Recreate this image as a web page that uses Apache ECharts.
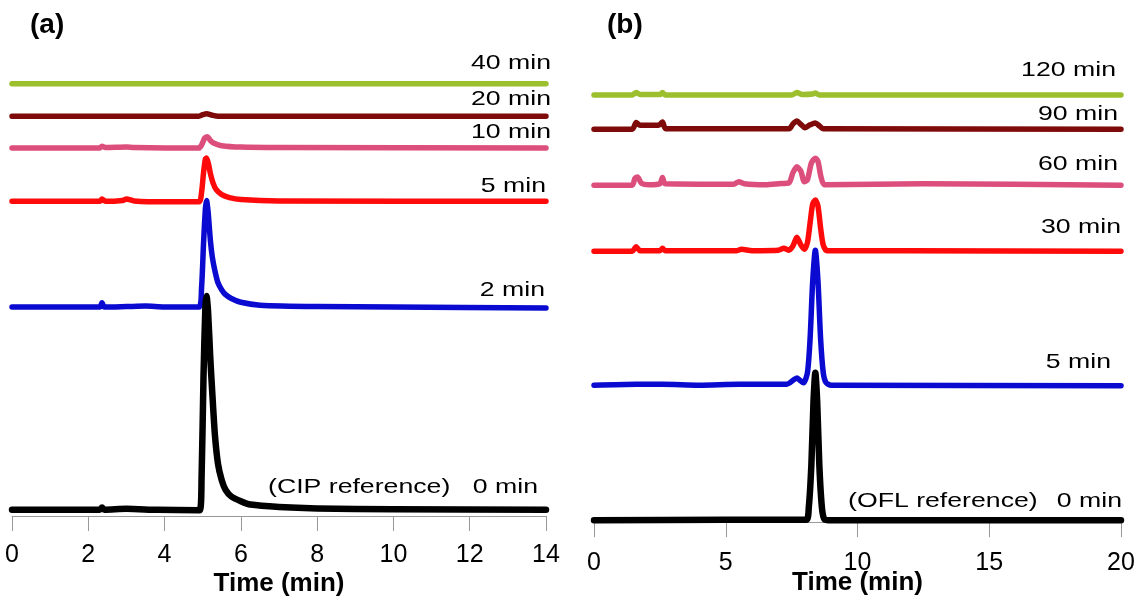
<!DOCTYPE html>
<html>
<head>
<meta charset="utf-8">
<script src="https://cdn.jsdelivr.net/npm/echarts@6/dist/echarts.min.js"></script>
<style>
html, body { margin: 0; padding: 0; background: #fff; }
#chart { width: 1134px; height: 602px; }
</style>
</head>
<body>
<div id="chart"></div>
<script>
// stacked chromatograms, values are offset intensity (arbitrary units, 0-100)
var cipTicks = [0, 2, 4, 6, 8, 10, 12, 14];
var oflTicks = [0, 5, 10, 15, 20];

var cipNames = ['0 min', '2 min', '5 min', '10 min', '20 min', '40 min'];
var oflNames = ['0 min', '5 min', '30 min', '60 min', '90 min', '120 min'];

var cip0 = [[0,1.3],[2.3,1.3],[2.36,1.8],[2.42,1.3],[3,1.5],[3.8,1.3],[4.92,1.2],[4.97,8],[5.02,29],[5.07,44],[5.1,46.2],[5.14,43],[5.2,33],[5.25,26],[5.32,17],[5.4,11],[5.5,7.5],[5.6,5.5],[5.75,4.1],[6,3.1],[6.25,2.4],[7,1.9],[8,1.6],[10,1.4],[14,1.3]];
var cip2 = [[0,43.9],[2.3,43.9],[2.36,44.8],[2.42,43.9],[3,44.0],[3.5,44.1],[4,43.9],[4.9,43.9],[4.97,48],[5.02,57],[5.07,64.5],[5.1,66.3],[5.14,64],[5.2,58],[5.25,54.5],[5.32,51.5],[5.4,49],[5.5,47.5],[5.6,46.5],[5.75,45.7],[6,44.9],[6.5,44.3],[8,44.0],[10,43.9],[14,43.7]];
var cip5 = [[0,66.1],[2.3,66.1],[2.36,66.6],[2.45,66.1],[2.9,66.3],[3.0,66.6],[3.2,66.2],[4,66.0],[4.9,66.0],[4.97,68],[5.02,72],[5.07,75],[5.1,75.2],[5.15,74],[5.2,72],[5.27,70],[5.35,68.6],[5.5,67.5],[5.7,66.9],[6,66.5],[7,66.2],[14,66.1]];
var cip10 = [[0,77.3],[2.3,77.3],[2.36,77.7],[2.45,77.4],[3,77.5],[3.2,77.4],[4.9,77.3],[4.98,78.1],[5.05,79.4],[5.12,79.7],[5.2,78.9],[5.3,78.3],[5.5,77.8],[6,77.5],[7,77.4],[14,77.3]];
var cip20 = [[0,84.0],[4.9,84.0],[5.0,84.3],[5.1,84.5],[5.25,84.2],[5.4,84.0],[14,84.0]];
var cip40 = [[0,90.8],[14,90.8]];

var ofl0 = [[0,0.4],[5,0.5],[8.05,0.5],[8.15,3],[8.25,12],[8.33,25],[8.4,31],[8.47,25],[8.55,12],[8.65,3],[8.75,0.6],[9,0.4],[20,0.4]];
var ofl5 = [[0,28.4],[1.6,28.6],[2.6,28.6],[4,28.4],[5.5,28.6],[6.8,28.6],[7.3,28.6],[7.6,29.6],[7.7,29.9],[7.8,29.5],[7.95,28.9],[8.1,31],[8.2,38],[8.3,50],[8.4,56.4],[8.5,50],[8.6,38],[8.7,31],[8.8,29],[9,28.4],[20,28.3]];
var ofl30 = [[0,56.2],[1.45,56.2],[1.6,57.1],[1.75,56.3],[2.5,56.3],[2.6,56.8],[2.7,56.3],[5.4,56.3],[5.6,56.6],[6,56.3],[7.0,56.4],[7.2,56.8],[7.4,56.4],[7.55,57.3],[7.7,59.1],[7.85,57.5],[7.98,56.6],[8.1,58],[8.2,62],[8.3,66],[8.4,66.8],[8.5,65.5],[8.6,61],[8.7,57.5],[8.85,56.3],[12,56.3],[20,56.2]];
var ofl60 = [[0,69.9],[1.45,69.9],[1.55,71.3],[1.65,71.6],[1.8,70.3],[2.1,70.0],[2.5,70.2],[2.6,71.5],[2.7,70.2],[5.3,70.1],[5.5,70.6],[5.7,70.2],[6.5,70.0],[7.0,70.2],[7.4,70.4],[7.55,72.5],[7.7,73.7],[7.85,72.8],[7.98,70.6],[8.1,71],[8.25,74.5],[8.4,75.5],[8.5,74.8],[8.62,71.5],[8.75,70.0],[12.5,70.2],[20,69.9]];
var ofl90 = [[0,81.5],[1.45,81.5],[1.6,82.9],[1.75,82.3],[2.45,82.3],[2.6,83.0],[2.72,81.6],[7.4,81.6],[7.55,82.6],[7.7,83.2],[7.85,82.5],[8.0,81.8],[8.2,82.4],[8.4,82.8],[8.55,82.2],[8.7,81.6],[20,81.5]];
var ofl120 = [[0,88.6],[1.45,88.6],[1.6,89.1],[1.75,88.7],[2.5,88.7],[2.6,89.1],[2.7,88.6],[7.5,88.6],[7.7,89.1],[7.9,88.7],[8.3,88.8],[8.4,89.0],[8.55,88.6],[20,88.6]];

var cipData = [cip0, cip2, cip5, cip10, cip20, cip40];
var oflData = [ofl0, ofl5, ofl30, ofl60, ofl90, ofl120];
var traceColors = ['#000000', '#0a0ad0', '#ff0a0a', '#dc4e7c', '#7f0a0a', '#9cbf2d'];

var FONT = 'Liberation Sans, Arial, sans-serif';

function makeXAxis(gridIndex, max, interval, margin, gap) {
	return {
		type : 'value',
		gridIndex : gridIndex,
		min : 0,
		max : max,
		interval : interval,
		name : 'Time (min)',
		nameLocation : 'middle',
		nameGap : gap,
		nameMoveOverlap : false,
		nameTextStyle : { color : '#000', fontSize : 26, fontWeight : 'bold', fontFamily : FONT },
		axisLine : { lineStyle : { color : '#999', width : 1 } },
		axisTick : { length : 15, lineStyle : { color : '#999', width : 1 } },
		axisLabel : { color : '#000', fontSize : 25, fontFamily : FONT, margin : margin },
		splitLine : { show : false }
	};
}

function makeYAxis(gridIndex, min) {
	return { type : 'value', gridIndex : gridIndex, min : min, max : 100, show : false };
}

var series = [];
function addTraces(list, names, axisIndex, prefix) {
	for (var i = list.length - 1; i >= 0; i--) {
		series.push({
			name : prefix + names[i],
			type : 'line',
			xAxisIndex : axisIndex,
			yAxisIndex : axisIndex,
			data : list[i],
			showSymbol : false,
			smooth : 0.25,
			silent : true,
			lineStyle : { color : traceColors[i], width : i == 0 ? 6.5 : 5.5, cap : 'round', join : 'round' }
		});
	}
}
addTraces(cipData, cipNames, 0, 'CIP ');
addTraces(oflData, oflNames, 1, 'OFL ');

// labels in the figure are a bit stretched sideways
function txt(s, x, y, align, size, bold, sx) {
	return {
		type : 'text', x : x, y : y, scaleX : sx || 1.27,
		style : {
			text : s, fill : '#000', fontSize : size || 21, fontWeight : bold ? 'bold' : 'normal',
			fontFamily : FONT, textAlign : align || 'right', textVerticalAlign : 'middle'
		}
	};
}

var graphics = [
	txt('(a)', 30, 25, 'left', 28, true, 1),
	txt('(b)', 607, 25, 'left', 28, true, 1),
	txt(cipNames[5], 551, 63), txt(cipNames[4], 551, 99), txt(cipNames[3], 551, 132),
	txt(cipNames[2], 546, 186), txt(cipNames[1], 545, 290),
	txt('(CIP reference)', 268, 487, 'left'), txt(cipNames[0], 538, 487),
	txt(oflNames[5], 1116, 70), txt(oflNames[4], 1118, 114), txt(oflNames[3], 1118, 164),
	txt(oflNames[2], 1121, 227), txt(oflNames[1], 1111, 362),
	txt('(OFL reference)', 848, 501, 'left'), txt(oflNames[0], 1122, 501)
];

var myChart = echarts.init(document.getElementById('chart'), null, { renderer : 'canvas' });
var option = {
	backgroundColor : '#fff',
	animation : false,
	grid : [
		{ left : 12, right : 588, top : 40, bottom : 86, containLabel : false, outerBoundsMode : 'none' },
		{ left : 594, right : 13, top : 40, bottom : 75, containLabel : false, outerBoundsMode : 'none' }
	],
	xAxis : [ makeXAxis(0, cipTicks[cipTicks.length - 1], cipTicks[1] - cipTicks[0], 27, 55),
	          makeXAxis(1, oflTicks[oflTicks.length - 1], oflTicks[1] - oflTicks[0], 24, 43) ],
	yAxis : [ makeYAxis(0, 0), makeYAxis(1, -1) ],
	series : series,
	graphic : graphics
};
myChart.setOption(option);
</script>
</body>
</html>
